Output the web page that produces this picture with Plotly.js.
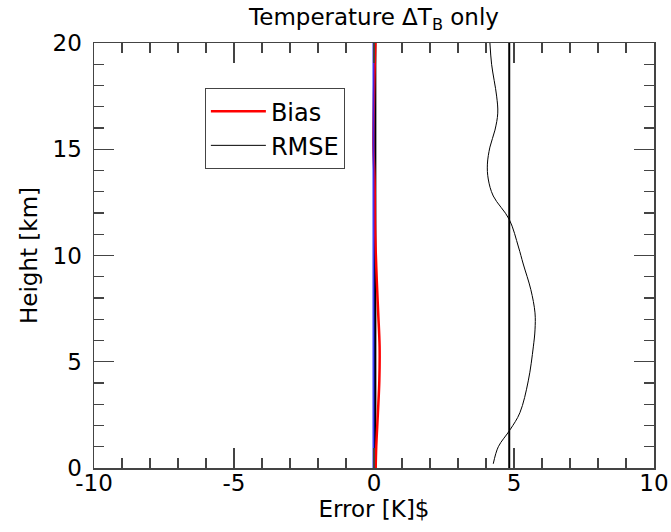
<!DOCTYPE html>
<html>
<head>
<meta charset="utf-8">
<script src="https://cdn.plot.ly/plotly-3.0.1.min.js"></script>
<style>html,body{margin:0;padding:0;background:#fff;}#chart{width:671px;height:532px;}</style>
</head>
<body>
<div id="chart"></div>
<script>
// Heights [km]
const rmseHeight = [0.2, 1.0, 1.8, 2.6, 4.1, 5.7, 6.5, 7.3, 8.4, 9.6, 10.4, 11.7, 12.8, 13.6, 14.3, 15.1, 15.9, 16.7, 17.5, 19.0, 20.0];
const rmseError  = [4.26, 4.44, 4.86, 5.21, 5.51, 5.69, 5.75, 5.75, 5.60, 5.33, 5.16, 4.83, 4.26, 4.08, 4.05, 4.14, 4.32, 4.42, 4.38, 4.20, 4.14];

const biasHeight = [0.0, 1.0, 2.6, 4.1, 5.7, 7.3, 8.8, 11.2, 13.6, 15.1, 17.5, 20.0];
const biasError  = [0.06, 0.08, 0.14, 0.19, 0.20, 0.15, 0.10, 0.04, 0.02, -0.02, 0.00, 0.05];

const meanRmse = 4.83;
const meanBias = 0.04;
const zeroRef = -0.02;
const lineHeights = [0, 20];

const xTickVals = [-10, -5, 0, 5, 10];
const yTickVals = [0, 5, 10, 15, 20];

const traces = [
  {x: [meanBias, meanBias], y: lineHeights, mode: 'lines', line: {color: '#000', width: 2.5}, showlegend: false, hoverinfo: 'skip'},
  {x: biasError, y: biasHeight, mode: 'lines', name: 'Bias', line: {color: '#ff0000', width: 2.5, shape: 'spline'}},
  {x: [zeroRef, zeroRef], y: lineHeights, mode: 'lines', line: {color: 'rgba(40,40,255,0.85)', width: 2}, showlegend: false, hoverinfo: 'skip'},
  {x: rmseError, y: rmseHeight, mode: 'lines', name: 'RMSE', line: {color: '#000', width: 1, shape: 'spline'}},
  {x: [meanRmse, meanRmse], y: lineHeights, mode: 'lines', line: {color: '#000', width: 2}, showlegend: false, hoverinfo: 'skip'}
];

const axisCommon = {
  showgrid: false, zeroline: false,
  showline: true, linecolor: '#444', linewidth: 1.5, mirror: 'ticks',
  ticks: 'inside', ticklen: 20, tickwidth: 1.2, tickcolor: '#444',
  tickfont: {family: 'DejaVu Sans', size: 23, color: '#000'}
};

const layout = {
  width: 671, height: 532,
  margin: {l: 94, r: 17, t: 43, b: 64},
  paper_bgcolor: '#fff', plot_bgcolor: '#fff',
  font: {family: 'DejaVu Sans', color: '#000'},
  title: {text: 'Temperature ΔT<sub>B</sub> only', font: {family: 'DejaVu Sans', size: 23, color: '#000'}, x: 0.5, xanchor: 'center', xref: 'paper', y: 0.968, yanchor: 'middle'},
  xaxis: Object.assign({}, axisCommon, {
    range: [-10, 10], tickvals: xTickVals, ticktext: xTickVals.map(String),
    ticklabelstandoff: -6,
    minor: {dtick: 1, tick0: 0, ticks: 'inside', ticklen: 10, tickwidth: 1.2, tickcolor: '#444'},
    title: {text: 'Error [K]$', font: {family: 'DejaVu Sans', size: 23, color: '#000'}, standoff: 0}
  }),
  yaxis: Object.assign({}, axisCommon, {
    range: [0, 20], tickvals: yTickVals, ticktext: yTickVals.map(String),
    ticklabelstandoff: 6,
    minor: {dtick: 1, tick0: 0, ticks: 'inside', ticklen: 10, tickwidth: 1.2, tickcolor: '#444'},
    title: {text: 'Height [km]', font: {family: 'DejaVu Sans', size: 23, color: '#000'}, standoff: 8}
  }),
  legend: {
    x: 0.198, y: 0.894, xanchor: 'left', yanchor: 'top',
    bgcolor: '#fff', bordercolor: '#444', borderwidth: 1,
    font: {family: 'DejaVu Sans', size: 24, color: '#000'},
    itemwidth: 55,
    tracegroupgap: 0
  },
  showlegend: true
};

Plotly.newPlot('chart', traces, layout, {staticPlot: true, displayModeBar: false});
</script>
</body>
</html>
